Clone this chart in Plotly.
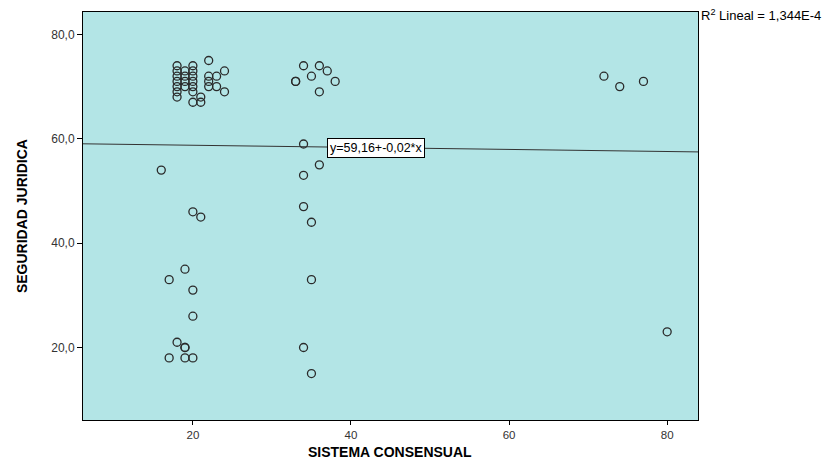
import plotly.graph_objects as go

# Data
sistema_consensual = [
    18, 18, 18, 18, 18, 18, 18,
    19, 19, 19, 19,
    20, 20, 20, 20, 20, 20, 20,
    21, 21,
    22, 22, 22, 22,
    23, 23,
    24, 24,
    34, 36, 37, 35, 33, 33, 38, 36,
    72, 74, 77,
    34, 16, 36, 34, 34, 20, 21, 35,
    19, 17, 35, 20, 20,
    18, 19, 19, 34, 17, 19, 20, 35,
    80,
]
seguridad_juridica = [
    74, 73, 72, 71, 70, 69, 68,
    73, 72, 71, 70,
    74, 73, 72, 71, 70, 69, 67,
    68, 67,
    75, 72, 71, 70,
    72, 70,
    73, 69,
    74, 74, 73, 72, 71, 71, 71, 69,
    72, 70, 71,
    59, 54, 55, 53, 47, 46, 45, 44,
    35, 33, 33, 31, 26,
    21, 20, 20, 20, 18, 18, 18, 15,
    23,
]

intercept = 59.16
slope = -0.02
x_range = [6.1, 83.9]
y_range = [6.1, 84.3]

x_ticks = [20, 40, 60, 80]
x_ticktext = ["20", "40", "60", "80"]
y_ticks = [20, 40, 60, 80]
y_ticktext = ["20,0", "40,0", "60,0", "80,0"]

fit_x = x_range
fit_y = [intercept + slope * v for v in fit_x]

FONT = "Liberation Sans, Arial"

fig = go.Figure()
fig.add_trace(go.Scatter(
    x=fit_x, y=fit_y, mode="lines",
    line=dict(color="#333333", width=1),
    hoverinfo="skip", showlegend=False,
))
fig.add_trace(go.Scatter(
    x=sistema_consensual, y=seguridad_juridica, mode="markers",
    marker=dict(symbol="circle-open", size=8, color="#2a2a2a",
                line=dict(width=1.3, color="#2a2a2a")),
    showlegend=False,
))

fig.add_annotation(
    x=37.0, y=58.3, xref="x", yref="y", xanchor="left", yanchor="middle",
    text="y=59,16+-0,02*x", showarrow=False,
    font=dict(family=FONT, size=12.5, color="#000000"),
    bgcolor="#ffffff", bordercolor="#000000", borderwidth=1, borderpad=2,
)
fig.add_annotation(
    x=1.002, y=1.0, xref="paper", yref="paper", xanchor="left", yanchor="middle",
    yshift=-3,
    text="R<sup>2</sup> Lineal = 1,344E-4", showarrow=False,
    font=dict(family=FONT, size=13, color="#000000"),
)
# Axis titles
fig.add_annotation(
    x=0.499, y=-0.078, xref="paper", yref="paper", xanchor="center", yanchor="middle",
    text="<b>SISTEMA CONSENSUAL</b>", showarrow=False,
    font=dict(family=FONT, size=14, color="#000000"),
)
fig.add_annotation(
    x=-0.099, y=0.5, xref="paper", yref="paper", xanchor="center", yanchor="middle",
    text="<b>SEGURIDAD JURIDICA</b>", showarrow=False, textangle=-90,
    font=dict(family=FONT, size=14, color="#000000"),
)

fig.update_layout(
    width=825, height=454,
    margin=dict(l=75, r=135, t=4, b=42),
    paper_bgcolor="#ffffff",
    plot_bgcolor="#b3e5e6",
    font=dict(family=FONT, size=11, color="#333333"),
    xaxis=dict(
        range=x_range, tickvals=x_ticks, ticktext=x_ticktext,
        ticks="outside", ticklen=4, tickcolor="#000000",
        showgrid=False, zeroline=False, automargin=False,
        showline=True, linecolor="#000000", linewidth=1, mirror=True,
        tickfont=dict(size=11.5, color="#333333"),
    ),
    yaxis=dict(
        range=y_range, tickvals=y_ticks, ticktext=y_ticktext,
        ticks="outside", ticklen=5, tickcolor="#000000",
        showgrid=False, zeroline=False, automargin=False,
        showline=True, linecolor="#000000", linewidth=1, mirror=True,
        tickfont=dict(size=12, color="#333333"),
    ),
)

fig.write_html("out.html")
